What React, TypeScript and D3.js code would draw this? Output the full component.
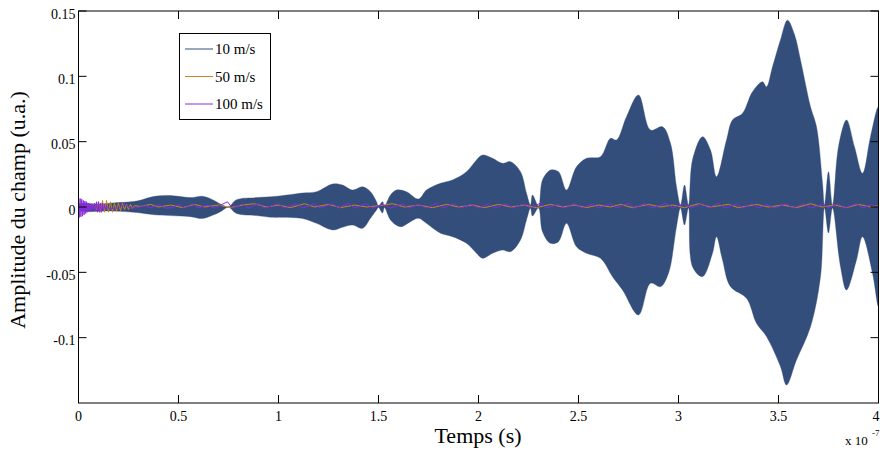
import React from 'react';
import * as d3 from 'd3';

// ---- data (time in units of 1e-7 s) ----
// 10 m/s : envelope of the fast oscillation (upper / lower)
const upperT = [0, 0.11, 0.17, 0.29, 0.38, 0.46, 0.56, 0.62, 0.67, 0.72, 0.75, 0.79, 0.89, 0.99, 1.12, 1.19, 1.27, 1.32, 1.37, 1.42, 1.46, 1.49, 1.50, 1.52, 1.53, 1.56, 1.59, 1.64, 1.70, 1.74, 1.81, 1.87, 1.94, 1.99, 2.02, 2.07, 2.12, 2.16, 2.21, 2.24, 2.26, 2.27, 2.30, 2.32, 2.36, 2.40, 2.44, 2.49, 2.54, 2.61, 2.66, 2.69, 2.74, 2.80, 2.86, 2.92, 2.96, 2.99, 3.01, 3.03, 3.05, 3.07, 3.12, 3.16, 3.19, 3.24, 3.27, 3.32, 3.37, 3.42, 3.44, 3.47, 3.51, 3.545, 3.58, 3.61, 3.66, 3.69, 3.72, 3.73, 3.75, 3.77, 3.80, 3.84, 3.88, 3.92, 3.96, 4.0];
const upperV = [0.002, 0.0023, 0.0031, 0.0045, 0.0082, 0.0088, 0.0072, 0.0082, 0.0056, 0.0015, 0.0002, 0.0056, 0.0072, 0.0082, 0.0107, 0.0117, 0.0176, 0.0168, 0.0130, 0.0155, 0.0117, 0.0041, 0.0008, 0.0041, 0.0008, 0.0092, 0.0130, 0.0117, 0.0061, 0.0130, 0.0181, 0.0207, 0.0270, 0.0360, 0.0398, 0.0373, 0.0334, 0.0347, 0.0270, 0.0105, 0.0015, 0.0092, 0.0008, 0.0207, 0.0283, 0.0270, 0.0130, 0.0308, 0.0373, 0.0385, 0.0526, 0.0513, 0.0691, 0.0857, 0.0589, 0.0614, 0.0487, 0.0155, 0.0015, 0.0168, 0.0015, 0.0360, 0.0538, 0.0436, 0.0232, 0.0513, 0.0666, 0.0717, 0.0882, 0.0959, 0.0920, 0.1073, 0.128, 0.143, 0.132, 0.1125, 0.0767, 0.0614, 0.0184, 0.0015, 0.0270, 0.0015, 0.0461, 0.0666, 0.0461, 0.0258, 0.0538, 0.0767];
const lowerT = [0, 0.17, 0.29, 0.38, 0.46, 0.56, 0.62, 0.67, 0.71, 0.75, 0.79, 0.89, 0.96, 1.12, 1.19, 1.27, 1.32, 1.37, 1.42, 1.46, 1.49, 1.50, 1.52, 1.53, 1.56, 1.61, 1.66, 1.70, 1.74, 1.81, 1.87, 1.94, 1.99, 2.02, 2.07, 2.12, 2.16, 2.21, 2.24, 2.26, 2.27, 2.30, 2.32, 2.36, 2.40, 2.44, 2.49, 2.54, 2.61, 2.67, 2.72, 2.80, 2.86, 2.91, 2.95, 2.99, 3.01, 3.03, 3.05, 3.07, 3.12, 3.17, 3.19, 3.22, 3.26, 3.34, 3.39, 3.44, 3.51, 3.54, 3.59, 3.66, 3.71, 3.73, 3.75, 3.77, 3.81, 3.84, 3.89, 3.92, 3.97, 4.0];
const lowerV = [-0.0023, -0.0031, -0.0042, -0.0060, -0.0066, -0.0074, -0.0088, -0.0064, -0.0036, -0.0002, -0.0050, -0.0066, -0.0078, -0.0088, -0.0125, -0.0176, -0.0155, -0.0138, -0.0163, -0.0086, -0.0023, -0.0004, -0.0046, -0.0004, -0.0099, -0.0151, -0.0112, -0.0086, -0.0125, -0.0201, -0.0227, -0.0278, -0.0354, -0.0393, -0.0354, -0.0329, -0.0342, -0.0252, -0.0099, -0.0008, -0.0069, -0.0008, -0.0189, -0.0278, -0.0265, -0.0125, -0.0304, -0.0354, -0.0393, -0.0533, -0.0635, -0.0826, -0.0584, -0.0610, -0.0507, -0.0151, -0.0008, -0.0138, -0.0008, -0.0457, -0.0533, -0.0354, -0.0227, -0.0405, -0.0610, -0.0698, -0.0890, -0.0992, -0.1222, -0.1362, -0.1170, -0.0916, -0.0533, -0.0008, -0.0199, -0.0008, -0.0457, -0.0635, -0.0405, -0.0227, -0.0507, -0.0763];

// 50 m/s
const orangeT = [0, 0.05, 0.08, 0.09, 0.10, 0.11, 0.12, 0.13, 0.14, 0.15, 0.16, 0.17, 0.18, 0.19, 0.20, 0.21, 0.22, 0.23, 0.24, 0.25, 0.26, 0.27, 0.28, 0.31, 0.36, 0.40, 0.46, 0.52, 0.58, 0.63, 0.70, 0.76, 0.82, 0.88, 0.94, 1.00, 1.06, 1.13, 1.18, 1.25, 1.31, 1.38, 1.44, 1.50, 1.57, 1.63, 1.70, 1.77, 1.84, 1.90, 1.97, 2.03, 2.10, 2.16, 2.23, 2.29, 2.36, 2.42, 2.48, 2.54, 2.60, 2.66, 2.71, 2.77, 2.85, 2.91, 2.97, 3.03, 3.10, 3.16, 3.25, 3.30, 3.39, 3.45, 3.52, 3.59, 3.66, 3.72, 3.78, 3.84, 3.90, 3.96, 4.0];
const orangeV = [0.0, 0.001, 0.002, -0.002, 0.004, -0.004, 0.005, -0.004, 0.005, -0.004, 0.004, -0.004, 0.003, -0.003, 0.003, -0.003, 0.003, -0.002, 0.002, -0.002, 0.002, -0.001, 0.001, 0.0005, 0.002, 0.0, 0.0015, -0.0005, 0.002, 0.0, 0.0015, -0.0005, 0.0015, 0.0025, 0.0, 0.0015, -0.0005, 0.0025, 0.0, 0.002, -0.0005, 0.0015, 0.0, 0.001, 0.0025, 0.0, 0.0015, -0.0005, 0.002, 0.0, 0.0015, -0.0005, 0.002, 0.0, 0.0015, -0.0005, 0.002, 0.0, 0.0015, -0.0005, 0.0015, 0.0, 0.002, -0.0005, 0.002, 0.0, 0.0015, -0.0005, 0.0025, 0.0, 0.002, -0.0005, 0.002, 0.0, 0.0015, -0.0005, 0.0025, 0.0, 0.0015, -0.0005, 0.002, 0.0, 0.001];

// 100 m/s
const purpleT = [0, 0.004, 0.008, 0.012, 0.016, 0.020, 0.024, 0.028, 0.032, 0.036, 0.040, 0.044, 0.048, 0.052, 0.056, 0.060, 0.064, 0.068, 0.072, 0.076, 0.080, 0.085, 0.090, 0.095, 0.100, 0.105, 0.110, 0.115, 0.120, 0.125, 0.130, 0.135, 0.140, 0.150, 0.18, 0.20, 0.23, 0.26, 0.30, 0.33, 0.36, 0.40, 0.43, 0.47, 0.50, 0.53, 0.57, 0.60, 0.64, 0.68, 0.745, 0.77, 0.82, 0.85, 0.90, 0.93, 1.00, 1.03, 1.09, 1.12, 1.18, 1.21, 1.27, 1.30, 1.35, 1.38, 1.44, 1.47, 1.52, 1.56, 1.62, 1.65, 1.70, 1.74, 1.79, 1.82, 1.88, 1.91, 1.96, 2.00, 2.05, 2.08, 2.14, 2.17, 2.22, 2.26, 2.31, 2.34, 2.40, 2.43, 2.48, 2.52, 2.57, 2.60, 2.66, 2.69, 2.75, 2.78, 2.83, 2.87, 2.94, 2.97, 3.03, 3.06, 3.12, 3.15, 3.20, 3.23, 3.29, 3.32, 3.37, 3.40, 3.44, 3.48, 3.54, 3.57, 3.63, 3.66, 3.72, 3.75, 3.80, 3.83, 3.89, 3.92, 3.97, 4.0];
const purpleV = [0.007, -0.008, 0.0065, -0.0075, 0.006, -0.007, 0.005, -0.006, 0.0045, -0.005, 0.004, -0.004, 0.003, -0.003, 0.002, -0.003, 0.002, -0.002, 0.002, -0.002, 0.003, -0.003, 0.004, -0.004, 0.004, -0.004, 0.003, -0.004, 0.003, -0.003, 0.002, -0.002, 0.001, -0.001, -0.001, -0.0005, 0.002, -0.0008, -0.0005, 0.0015, -0.0008, 0.002, -0.0008, -0.0005, 0.002, -0.0008, 0.0025, -0.0008, 0.0015, -0.0008, 0.004, -0.001, 0.0025, -0.0008, 0.0025, -0.0008, 0.0025, -0.0008, 0.0025, -0.0008, 0.0025, -0.0008, 0.0025, -0.0008, 0.003, -0.0008, 0.0025, -0.0008, 0.002, -0.0008, 0.0025, -0.0008, 0.002, -0.0008, 0.003, -0.0008, 0.0025, -0.0008, 0.002, -0.0008, 0.0025, -0.0008, 0.0025, -0.0008, 0.002, -0.0008, 0.003, -0.0008, 0.002, -0.0008, 0.0025, -0.0008, 0.0025, -0.0008, 0.0025, -0.0008, 0.003, -0.0008, 0.0025, -0.0008, 0.003, -0.0008, 0.0025, -0.0008, 0.0025, -0.0008, 0.003, -0.0008, 0.0025, -0.0008, 0.0025, -0.0008, 0.002, -0.0008, 0.0025, -0.0008, 0.0025, -0.0008, 0.002, -0.0008, 0.0025, -0.0008, 0.0025, -0.0008, 0.002, -0.0008];

const seriesNames = ['10 m/s', '50 m/s', '100 m/s'];
const seriesColors = ['#344e7c', '#c8861c', '#8a2be2'];
const xTicks = [0, 0.5, 1, 1.5, 2, 2.5, 3, 3.5, 4];
const xTickLabels = ['0', '0.5', '1', '1.5', '2', '2.5', '3', '3.5', '4'];
const yTicks = [-0.1, -0.05, 0, 0.05, 0.1, 0.15];
const yTickLabels = ['-0.1', '-0.05', '0', '0.05', '0.1', '0.15'];

const FONT = '"Liberation Serif", "Times New Roman", serif';

export default function App() {
  const L = 78.5, R = 878.5, T = 11, B = 403;
  const x = d3.scaleLinear().domain([0, 4]).range([L, R]);
  const y = d3.scaleLinear().domain([-0.15, 0.15]).range([B, T]);

  const upper = upperT.map((t, i) => [x(t), y(upperV[i])] as [number, number]);
  const lower = lowerT.map((t, i) => [x(t), y(lowerV[i])] as [number, number]);
  const ring = upper.concat(lower.slice().reverse());
  const bluePath = d3.line().curve(d3.curveCatmullRomClosed.alpha(0.5))(ring) || '';

  const lineGen = d3.line<[number, number]>().x(d => x(d[0])).y(d => y(d[1]));
  const orangePath = lineGen(orangeT.map((t, i) => [t, orangeV[i]])) || '';
  const purplePath = lineGen(purpleT.map((t, i) => [t, purpleV[i]])) || '';

  const tickLen = 8;

  return (
    <svg width={880} height={455} style={{ position: 'absolute', left: 0, top: 0, background: '#fff' }}
      fontFamily={FONT}>
      <defs>
        <clipPath id="plotclip">
          <rect x={L} y={T} width={R - L} height={B - T} />
        </clipPath>
      </defs>
      <rect x={0} y={0} width={880} height={455} fill="#fff" />
      <g clipPath="url(#plotclip)">
        <path d={bluePath} fill={seriesColors[0]} stroke={seriesColors[0]} strokeWidth={0.6} strokeOpacity={0.6} />
        <path d={orangePath} fill="none" stroke={seriesColors[1]} strokeWidth={1} />
        <path d={purplePath} fill="none" stroke={seriesColors[2]} strokeWidth={1} />
      </g>

      {/* axes box */}
      <rect x={L} y={T} width={R - L} height={B - T} fill="none" stroke="#000" strokeWidth={1} />

      {/* x ticks */}
      {xTicks.map((v, i) => (
        <g key={'xt' + i}>
          <line x1={x(v)} x2={x(v)} y1={B} y2={B - tickLen} stroke="#000" strokeWidth={1} />
          <line x1={x(v)} x2={x(v)} y1={T} y2={T + tickLen} stroke="#000" strokeWidth={1} />
          <text x={i === xTicks.length - 1 ? 879.5 : x(v)} y={421} fontSize={14}
            textAnchor={i === xTicks.length - 1 ? 'end' : 'middle'} fill="#000">{xTickLabels[i]}</text>
        </g>
      ))}
      {/* y ticks */}
      {yTicks.map((v, i) => (
        <g key={'yt' + i}>
          <line x1={L} x2={L + tickLen} y1={y(v)} y2={y(v)} stroke="#000" strokeWidth={1} />
          <line x1={R} x2={R - tickLen} y1={y(v)} y2={y(v)} stroke="#000" strokeWidth={1} />
          <text x={75.5} y={y(v) + 7.5} fontSize={14} textAnchor="end" fill="#000">{yTickLabels[i]}</text>
        </g>
      ))}

      {/* axis labels */}
      <text x={478} y={443} fontSize={22} textAnchor="middle" fill="#000">Temps (s)</text>
      <text transform="translate(25,210) rotate(-90)" fontSize={22} textAnchor="middle" fill="#000">Amplitude du champ (u.a.)</text>
      <text x={845} y={445} fontSize={13} fill="#000">x 10</text>
      <text x={872} y={436} fontSize={9} fill="#000">-7</text>

      {/* legend */}
      <rect x={179.5} y={33.5} width={91} height={86} fill="#fff" stroke="#000" strokeWidth={1} />
      {seriesNames.map((n, i) => {
        const ly = 49 + i * 27.5;
        return (
          <g key={'lg' + i}>
            <line x1={185} x2={213} y1={ly} y2={ly} stroke={seriesColors[i]} strokeWidth={1} />
            <text x={215} y={ly + 5} fontSize={15} fill="#000">{n}</text>
          </g>
        );
      })}
    </svg>
  );
}
